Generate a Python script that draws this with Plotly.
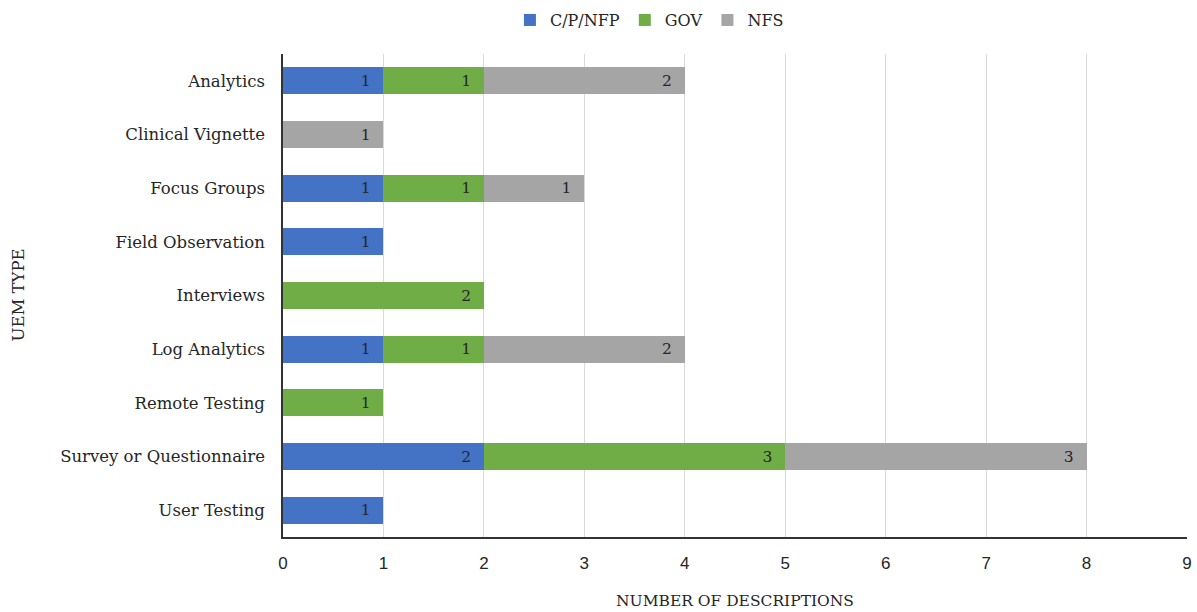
import plotly.graph_objects as go

categories = ["Analytics", "Clinical Vignette", "Focus Groups", "Field Observation",
              "Interviews", "Log Analytics", "Remote Testing", "Survey or Questionnaire",
              "User Testing"]
cpnfp = [1, None, 1, 1, None, 1, None, 2, 1]
gov = [1, None, 1, None, 2, 1, 1, 3, None]
nfs = [2, 1, 1, None, None, 2, None, 3, None]

series = [("C/P/NFP", cpnfp, "#4472C4"), ("GOV", gov, "#70AD47"), ("NFS", nfs, "#A5A5A5")]

serif = "DejaVu Serif"
sans = "Liberation Sans"
ink = "#262626"
pad = "\u00a0\u00a0"

W, H = 1197, 612
ML, MR, MT, MB = 283, 10, 54, 75
plot_w = W - ML - MR
plot_h = H - MT - MB

fig = go.Figure()
for name, vals, color in series:
    fig.add_trace(go.Bar(
        y=categories, x=vals, name=name, orientation="h",
        marker=dict(color=color, line=dict(width=0)),
        text=[f"{v}{pad}" if v else "" for v in vals],
        textposition="inside", insidetextanchor="end",
        textfont=dict(family=serif, size=15.5, color=ink),
        width=0.5,
    ))

fig.update_layout(
    barmode="stack",
    width=W, height=H,
    margin=dict(l=ML, r=MR, t=MT, b=MB),
    paper_bgcolor="white", plot_bgcolor="white",
    legend=dict(orientation="h", x=0.426, xanchor="left", y=0.995, yanchor="top",
                xref="container", yref="container",
                font=dict(family=serif, size=16, color=ink),
                traceorder="normal", itemwidth=30),
    xaxis=dict(range=[0, 9], dtick=1, showgrid=True, gridcolor="#D9D9D9", gridwidth=1,
               showline=True, linecolor="#333333", linewidth=1.5, zeroline=False,
               tickfont=dict(family=sans, size=17, color=ink), ticks="",
               ticklabelstandoff=10, automargin=False),
    yaxis=dict(autorange="reversed", showline=True, linecolor="#333333", linewidth=1.5,
               tickfont=dict(family=serif, size=16.5, color=ink), ticks="",
               ticklabelstandoff=13, automargin=False),
    annotations=[
        # axis titles placed below / left of the plotting area
        dict(text="NUMBER OF DESCRIPTIONS", xref="paper", yref="paper",
             x=0.5, y=-64 / plot_h, yanchor="middle", xanchor="center",
             showarrow=False, font=dict(family=serif, size=15.5, color=ink)),
        dict(text="UEM TYPE", xref="paper", yref="paper",
             x=-(ML - 18) / plot_w, y=0.5, xanchor="center", yanchor="middle",
             textangle=-90, showarrow=False,
             font=dict(family=serif, size=16.5, color=ink)),
    ],
)

fig.write_html("out.html")
